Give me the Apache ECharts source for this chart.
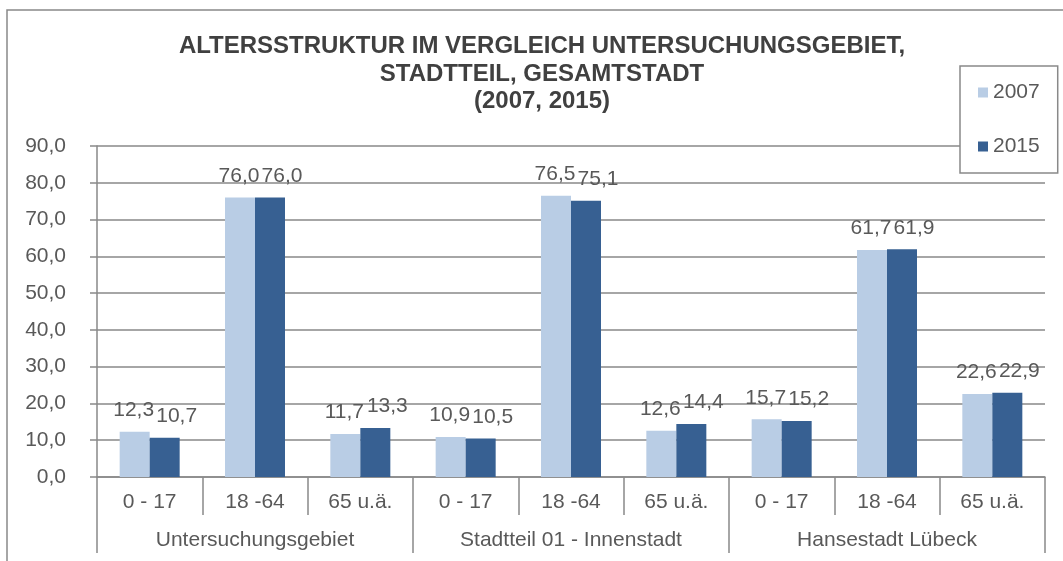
<!DOCTYPE html>
<html>
<head>
<meta charset="utf-8">
<script src="https://cdn.jsdelivr.net/npm/echarts@6/dist/echarts.min.js"></script>
<style>
html,body{margin:0;padding:0;background:#fff;}
#chart{width:1063px;height:561px;}
</style>
</head>
<body>
<div id="chart"></div>
<script>
const ageGroups = ['0 - 17', '18 -64', '65 u.ä.', '0 - 17', '18 -64', '65 u.ä.', '0 - 17', '18 -64', '65 u.ä.'];
const areas = ['Untersuchungsgebiet', 'Stadtteil 01 - Innenstadt', 'Hansestadt Lübeck'];
const values2007 = [12.3, 76.0, 11.7, 10.9, 76.5, 12.6, 15.7, 61.7, 22.6];
const values2015 = [10.7, 76.0, 13.3, 10.5, 75.1, 14.4, 15.2, 61.9, 22.9];
const seriesNames = ['2007', '2015'];
const titleText = 'ALTERSSTRUKTUR IM VERGLEICH UNTERSUCHUNGSGEBIET,\nSTADTTEIL, GESAMTSTADT\n(2007, 2015)';

const FONT = "'Liberation Sans', Arial, sans-serif";
const GRAY = '#898989';
const TXT = '#595959';
const fmt = v => Number(v).toFixed(1).replace('.', ',');

const chart = echarts.init(document.getElementById('chart'));
chart.setOption({
  backgroundColor: '#fff',
  animation: false,
  textStyle: { fontFamily: FONT },
  title: {
    text: titleText,
    left: 542,
    top: 33,
    padding: 0,
    textAlign: 'center',
    textStyle: { fontFamily: FONT, fontSize: 24, fontWeight: 'bold', color: '#404040', lineHeight: 27.5 }
  },
  legend: {
    data: seriesNames,
    orient: 'vertical',
    left: 960,
    top: 66,
    itemWidth: 10,
    itemHeight: 10,
    itemGap: 33,
    icon: 'rect',
    padding: [16, 18, 16, 18],
    backgroundColor: '#fff',
    borderColor: GRAY,
    borderWidth: 1.5,
    textStyle: { fontFamily: FONT, fontSize: 21, color: TXT, padding: [0, 0, 0, 0] },
    z: 10
  },
  grid: { left: 97, right: 18, top: 146, bottom: 84, containLabel: false, outerBoundsMode: 'none' },
  xAxis: [
    {
      type: 'category',
      data: ageGroups,
      position: 'bottom',
      axisLine: { show: true, lineStyle: { color: GRAY, width: 1.5 } },
      axisTick: { show: true, length: 38, interval: 0, lineStyle: { color: GRAY, width: 1.5 } },
      axisLabel: { margin: 15, fontSize: 21, color: TXT, fontFamily: FONT, interval: 0 }
    },
    {
      type: 'category',
      data: areas,
      position: 'bottom',
      offset: 0,
      axisLine: { show: false },
      axisTick: { show: true, length: 76, interval: 0, lineStyle: { color: GRAY, width: 1.5 } },
      axisLabel: { margin: 53, fontSize: 21, color: TXT, fontFamily: FONT, interval: 0 }
    }
  ],
  yAxis: {
    type: 'value',
    min: 0,
    max: 90,
    interval: 10,
    axisLine: { show: true, lineStyle: { color: GRAY, width: 1.5 } },
    axisTick: { show: true, length: 7, lineStyle: { color: GRAY, width: 1.5 } },
    splitLine: { show: true, lineStyle: { color: GRAY, width: 1.5 } },
    axisLabel: { margin: 31, fontSize: 21, color: TXT, fontFamily: FONT, formatter: fmt }
  },
  series: [
    {
      name: seriesNames[0],
      type: 'bar',
      xAxisIndex: 0,
      data: values2007,
      barWidth: 30,
      barGap: '0%',
      itemStyle: { color: '#B9CDE5' },
      label: { show: true, position: 'top', distance: 11, offset: [-1, 0], fontSize: 21, color: TXT, fontFamily: FONT, formatter: p => fmt(p.value) }
    },
    {
      name: seriesNames[1],
      type: 'bar',
      xAxisIndex: 0,
      data: values2015,
      barWidth: 30,
      barGap: '0%',
      itemStyle: { color: '#376092' },
      label: { show: true, position: 'top', distance: 11, offset: [12, 0], fontSize: 21, color: TXT, fontFamily: FONT, formatter: p => fmt(p.value) }
    }
  ],
  graphic: [
    {
      type: 'rect',
      shape: { x: 7, y: 10, width: 1100, height: 620 },
      style: { fill: 'none', stroke: GRAY, lineWidth: 1.5 },
      silent: true,
      z: -1
    }
  ]
});
</script>
</body>
</html>
